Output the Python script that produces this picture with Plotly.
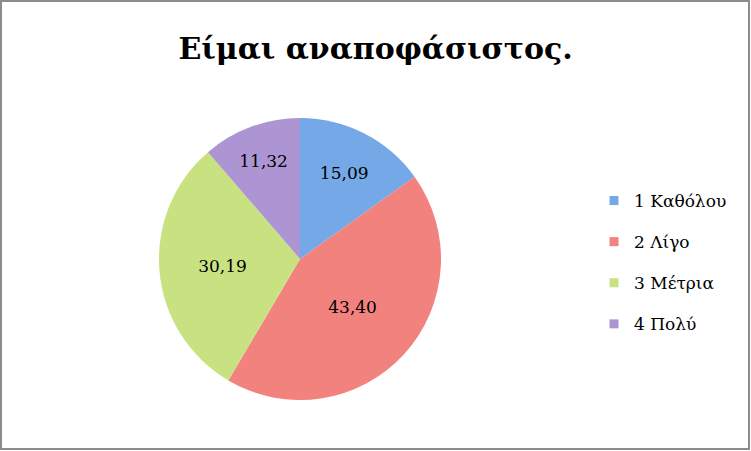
#!/usr/bin/env python3
# -*- coding: utf-8 -*-

import plotly.graph_objects as go

title = "Είμαι αναποφάσιστος."
labels = ["1 Καθόλου", "2 Λίγο", "3 Μέτρια", "4 Πολύ"]
values = [15.09, 43.40, 30.19, 11.32]
colors = ["#74a8e6", "#f2827d", "#c8e282", "#ad95d3"]

serif = "DejaVu Serif"
W, H = 751, 451

fig = go.Figure()

# pie, first slice from 12 o'clock going clockwise
fig.add_trace(go.Pie(
	labels=labels, values=values, sort=False, direction="clockwise", rotation=0,
	marker=dict(colors=colors, line=dict(width=0)),
	text=[("%.2f" % v).replace(".", ",") for v in values],
	textinfo="text", textposition="inside", insidetextorientation="horizontal",
	textfont=dict(family=serif, size=17, color="black"),
	hoverinfo="label+text",
	showlegend=False,
	domain=dict(x=[159/W, 441/W], y=[1-400/H, 1-118/H]),
))

# legend entries (dummy traces so the gap between items can be set)
for i, lab in enumerate(labels):
	fig.add_trace(go.Scatter(
		x=[None], y=[None], mode="markers", name=lab, legendgroup=str(i),
		marker=dict(symbol="square", size=9, color=colors[i]),
	))

fig.update_layout(
	width=W, height=H,
	margin=dict(l=0, r=0, t=0, b=0),
	paper_bgcolor="white", plot_bgcolor="white",
	title=dict(text="<b>" + title + "</b>", x=0.5, xanchor="center", y=1-48/H, yanchor="middle",
		font=dict(family=serif, size=30, color="black")),
	legend=dict(x=594/W, xanchor="left", y=1-183/H, yanchor="top",
		font=dict(family=serif, size=17, color="black"),
		tracegroupgap=16, itemwidth=30),
	xaxis=dict(visible=False), yaxis=dict(visible=False),
	shapes=[dict(type="rect", xref="paper", yref="paper", x0=1/W, x1=1-2/W, y0=2/H, y1=1-1/H,
		line=dict(color="#8c8c8c", width=2))],
)

# page body has an 8px default margin; drop it so the chart sits at 0,0
fig.write_html("out.html", config={"displayModeBar": False},
	post_script="document.body.style.margin='0';")
